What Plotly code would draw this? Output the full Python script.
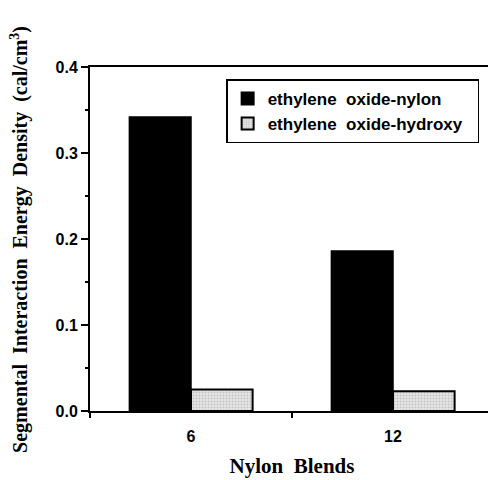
import plotly.graph_objects as go

categories = ["6", "12"]
oxide_nylon = [0.342, 0.186]
oxide_hydroxy = [0.025, 0.023]
series_names = ["ethylene  oxide-nylon", "ethylene  oxide-hydroxy\u00a0\u00a0"]
y_ticks = [0.0, 0.1, 0.2, 0.3, 0.4]
y_title = "Segmental  Interaction  Energy  Density  (cal/cm<sup>3</sup>)"

fig = go.Figure()
fig.add_trace(go.Bar(
    x=categories, y=oxide_nylon, name=series_names[0],
    marker=dict(color="black", line=dict(color="black", width=1.5)),
))
fig.add_trace(go.Bar(
    x=categories, y=oxide_hydroxy, name=series_names[1],
    marker=dict(color="#dcdcdc", line=dict(color="black", width=2),
                pattern=dict(shape=".", fgcolor="#9a9a9a", bgcolor="#e6e6e6",
                             size=3, solidity=0.3)),
))

fig.update_layout(
    width=488, height=472,
    margin=dict(l=82, r=0, t=59, b=69),
    paper_bgcolor="white", plot_bgcolor="white",
    barmode="group", bargap=0.39, bargroupgap=0,
    showlegend=True,
    legend=dict(
        x=0.337, y=0.964, xanchor="left", yanchor="top",
        bordercolor="black", borderwidth=1.5, bgcolor="white",
        font=dict(family="Liberation Sans", size=17, color="black", weight="bold"),
        itemsizing="constant",
    ),
    xaxis=dict(
        type="category", range=[-0.5, 1.5],
        showline=True, linecolor="black", linewidth=2, mirror=True,
        ticks="outside", tickson="boundaries", ticklen=5, tickwidth=1.5, tickcolor="black",
        ticklabelstandoff=10,
        tickfont=dict(family="Liberation Sans", size=16, color="black", weight="bold"),
        showgrid=False, zeroline=False,
        title=dict(text="Nylon  Blends", standoff=14,
                   font=dict(family="Liberation Serif", size=21, color="black", weight="bold")),
    ),
    yaxis=dict(
        range=[0, 0.4], tickvals=y_ticks, tickformat=".1f",
        showline=True, linecolor="black", linewidth=2, mirror=True,
        ticks="outside", ticklen=7, tickwidth=1.5, tickcolor="black",
        minor=dict(ticks="outside", ticklen=3, tickwidth=1.5, tickcolor="black", dtick=0.05, showgrid=False),
        tickfont=dict(family="Liberation Sans", size=16, color="black", weight="bold"),
        showgrid=False, zeroline=False,
    ),
    annotations=[dict(
        text=y_title, xref="paper", yref="paper", x=-0.176, y=0.5,
        xanchor="center", yanchor="middle", textangle=-90, showarrow=False,
        font=dict(family="Liberation Serif", size=20, color="black", weight="bold"),
    )],
)

fig.write_html("out.html")
